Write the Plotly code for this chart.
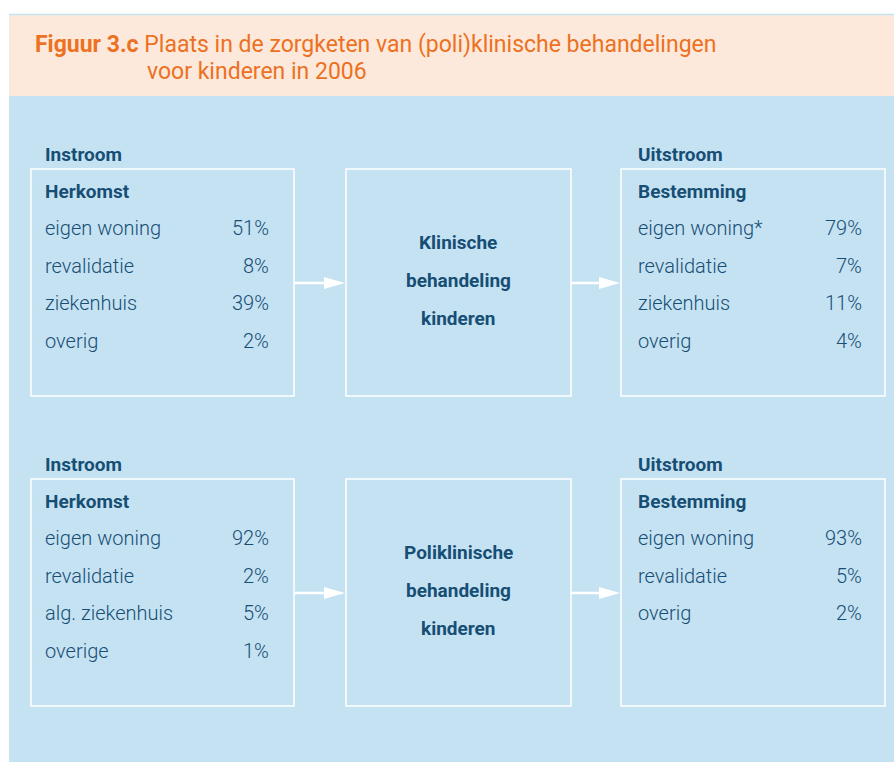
import plotly.graph_objects as go

# ---- data ----
title_bold = "Figuur 3.c"
title_rest = ["Plaats in de zorgketen van (poli)klinische behandelingen", "voor kinderen in 2006"]

top_in_labels = ["eigen woning", "revalidatie", "ziekenhuis", "overig"]
top_in_values = ["51%", "8%", "39%", "2%"]
top_mid = ["Klinische", "behandeling", "kinderen"]
top_out_labels = ["eigen woning*", "revalidatie", "ziekenhuis", "overig"]
top_out_values = ["79%", "7%", "11%", "4%"]

bot_in_labels = ["eigen woning", "revalidatie", "alg. ziekenhuis", "overige"]
bot_in_values = ["92%", "2%", "5%", "1%"]
bot_mid = ["Poliklinische", "behandeling", "kinderen"]
bot_out_labels = ["eigen woning", "revalidatie", "overig"]
bot_out_values = ["93%", "5%", "2%"]

# ---- styling ----
W, H = 894, 762
BLUE_BG = "#C5E2F3"
PEACH = "#FDE9DB"
TXT = "#174E74"
ORANGE = "#EC7122"
FONT = "Roboto, Arial, sans-serif"
REG = 20
BOLD = 19

fig = go.Figure()
shapes = []
ann = []

# panels
shapes.append(dict(type="rect", x0=9, x1=W, y0=14, y1=96, fillcolor=PEACH, line_width=0, layer="below"))
shapes.append(dict(type="line", x0=9, x1=W, y0=14.5, y1=14.5, line=dict(color="#C5E2F3", width=1.5)))
shapes.append(dict(type="rect", x0=9, x1=W, y0=96, y1=H, fillcolor=BLUE_BG, line_width=0, layer="below"))

ann.append(dict(x=33, y=44, text=f"<b>{title_bold}</b> {title_rest[0]}", xanchor="left", yanchor="middle",
                font=dict(family=FONT, size=23, color=ORANGE), showarrow=False))
ann.append(dict(x=145, y=71, text=title_rest[1], xanchor="left", yanchor="middle",
                font=dict(family=FONT, size=23, color=ORANGE), showarrow=False))


def T(x, y, text, anchor="left", size=REG, weight=300):
    dx = -2 if anchor == "left" else (1 if anchor == "right" else 0)
    ann.append(dict(x=x + dx, y=y, text=text, xanchor=anchor, yanchor="middle",
                    font=dict(family=FONT, size=size, color=TXT, weight=weight), showarrow=False))


def block(y0, in_labels, in_values, mid, out_labels, out_values):
    bh = 227
    boxes = [(31, 294), (346, 571), (621, 885)]
    for (a, b) in boxes:
        shapes.append(dict(type="rect", x0=a, x1=b, y0=y0, y1=y0 + bh,
                           line=dict(color="white", width=1.5), fillcolor="rgba(0,0,0,0)"))
    ay = y0 + 114
    for (a, b) in [(294, 346), (571, 621)]:
        shapes.append(dict(type="line", x0=a, x1=b - 18, y0=ay, y1=ay, line=dict(color="white", width=2.5)))
        shapes.append(dict(type="path", path=f"M {b-22},{ay-6} L {b-1},{ay} L {b-22},{ay+6} Z",
                           fillcolor="white", line_width=0))
    T(45, y0 - 15, "<b>Instroom</b>", size=BOLD, weight=700)
    T(638, y0 - 15, "<b>Uitstroom</b>", size=BOLD, weight=700)
    T(45, y0 + 22, "<b>Herkomst</b>", size=BOLD, weight=700)
    T(638, y0 + 22, "<b>Bestemming</b>", size=BOLD, weight=700)
    for i, (l, v) in enumerate(zip(in_labels, in_values)):
        yy = y0 + 59 + i * 37.5
        T(45, yy, l)
        T(270, yy, v, "right")
    for i, (l, v) in enumerate(zip(out_labels, out_values)):
        yy = y0 + 59 + i * 37.5
        T(638, yy, l)
        T(863, yy, v, "right")
    for i, t in enumerate(mid):
        T(458, y0 + 73 + i * 38, f"<b>{t}</b>", "center", BOLD, 700)


block(169, top_in_labels, top_in_values, top_mid, top_out_labels, top_out_values)
block(479, bot_in_labels, bot_in_values, bot_mid, bot_out_labels, bot_out_values)

fig.update_layout(
    width=W, height=H, margin=dict(l=0, r=0, t=0, b=0),
    paper_bgcolor="white", plot_bgcolor="white",
    xaxis=dict(range=[0, W], visible=False, fixedrange=True),
    yaxis=dict(range=[H, 0], visible=False, fixedrange=True),
    shapes=shapes, annotations=ann, showlegend=False,
)
fig.write_html("out.html", config={"displayModeBar": False},
               post_script="document.body.style.margin='0';document.body.style.overflow='hidden';")
